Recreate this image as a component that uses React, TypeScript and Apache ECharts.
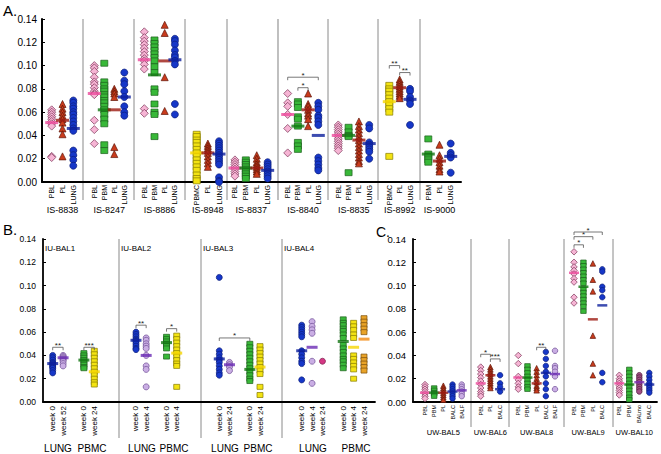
import React, { useEffect, useRef } from 'react';
import * as echarts from 'echarts';

const FONT = 'Liberation Sans, Arial, Helvetica, sans-serif';

// ---------------- Panel A data ----------------
const is8838Cats = ['PBL', 'PL', 'LUNG'];
const is8838Values = [
  [0.062, 0.060, 0.058, 0.056, 0.054, 0.052, 0.050, 0.048, 0.022, 0.021],
  [0.067, 0.063, 0.060, 0.057, 0.054, 0.051, 0.046, 0.041, 0.022],
  [0.070, 0.068, 0.065, 0.063, 0.060, 0.058, 0.055, 0.052, 0.049, 0.046, 0.044, 0.027, 0.023, 0.019, 0.014],
];
const is8838Medians = [0.051, 0.053, 0.046];

const is8247Cats = ['PBL', 'PBM', 'PL', 'LUNG'];
const is8247Values = [
  [0.100, 0.098, 0.095, 0.090, 0.086, 0.084, 0.081, 0.078, 0.076, 0.075, 0.053, 0.045, 0.033],
  [0.102, 0.086, 0.083, 0.080, 0.078, 0.075, 0.073, 0.070, 0.068, 0.065, 0.062, 0.058, 0.054, 0.050, 0.032, 0.027],
  [0.080, 0.078, 0.076, 0.073, 0.030, 0.024],
  [0.094, 0.087, 0.084, 0.078, 0.073, 0.065, 0.060, 0.057],
];
const is8247Medians = [0.076, 0.062, 0.062, 0.073];

const is8886Cats = ['PBL', 'PBM', 'PL', 'LUNG'];
const is8886Values = [
  [0.129, 0.124, 0.121, 0.118, 0.115, 0.112, 0.109, 0.106, 0.104, 0.101, 0.097, 0.063, 0.059],
  [0.122, 0.119, 0.116, 0.113, 0.110, 0.107, 0.104, 0.099, 0.094, 0.080, 0.077, 0.067, 0.060, 0.058, 0.039],
  [0.135, 0.128, 0.090, 0.061],
  [0.123, 0.121, 0.118, 0.113, 0.109, 0.107, 0.104, 0.101, 0.067, 0.058],
];
const is8886Medians = [0.105, 0.092, 0.104, 0.105];

const is8948Cats = ['PBMC', 'PL', 'LUNG'];
const is8948Values = [
  [0.041, 0.039, 0.036, 0.034, 0.031, 0.028, 0.025, 0.022, 0.019, 0.016, 0.013, 0.010, 0.006, 0.003, 0.001],
  [0.033, 0.031, 0.029, 0.027, 0.025, 0.022, 0.019, 0.016, 0.013],
  [0.035, 0.033, 0.031, 0.029, 0.027, 0.025, 0.023, 0.021, 0.019, 0.017, 0.015, 0.004, 0.001, 0.000],
];
const is8948Medians = [0.025, 0.025, 0.024];

const is8837Cats = ['PBL', 'PBM', 'PL', 'LUNG'];
const is8837Values = [
  [0.019, 0.017, 0.015, 0.013, 0.011, 0.009, 0.007, 0.005],
  [0.019, 0.017, 0.015, 0.013, 0.011, 0.009, 0.007, 0.005, 0.003],
  [0.023, 0.020, 0.017, 0.015, 0.013, 0.011, 0.009, 0.007],
  [0.017, 0.015, 0.013, 0.011, 0.009, 0.007, 0.005, 0.003],
];
const is8837Medians = [0.012, 0.012, 0.012, 0.010];

const is8840Cats = ['PBL', 'PBM', 'PL', 'LUNG'];
const is8840Values = [
  [0.076, 0.068, 0.065, 0.058, 0.046, 0.025],
  [0.069, 0.067, 0.064, 0.056, 0.054, 0.048, 0.034, 0.031, 0.028],
  [0.076, 0.067, 0.065, 0.062, 0.059, 0.057, 0.054, 0.048],
  [0.068, 0.065, 0.062, 0.057, 0.055, 0.052, 0.049, 0.021, 0.018, 0.015, 0.012, 0.010],
];
const is8840Medians = [0.058, 0.048, 0.062, 0.040];
const is8840Brackets: [number, number, number, string][] = [[0, 3, 0.090, '*'], [1, 2, 0.081, '*']];

const is8835Cats = ['PBL', 'PBM', 'PL', 'LUNG'];
const is8835Values = [
  [0.049, 0.047, 0.045, 0.043, 0.041, 0.039, 0.037, 0.035, 0.033, 0.031, 0.029, 0.027],
  [0.047, 0.043, 0.040, 0.039, 0.008],
  [0.052, 0.048, 0.045, 0.042, 0.039, 0.036, 0.033, 0.030, 0.027, 0.024, 0.021, 0.018, 0.016],
  [0.049, 0.046, 0.034, 0.032, 0.030, 0.028, 0.026, 0.020],
];
const is8835Medians = [0.040, 0.040, 0.036, 0.033];

const is8992Cats = ['PBMC', 'PL', 'LUNG'];
const is8992Values = [
  [0.083, 0.080, 0.078, 0.075, 0.072, 0.069, 0.066, 0.063, 0.060, 0.022],
  [0.088, 0.086, 0.084, 0.082, 0.080, 0.078, 0.076, 0.074, 0.072],
  [0.080, 0.078, 0.073, 0.070, 0.067, 0.049],
];
const is8992Medians = [0.069, 0.081, 0.071];
const is8992Brackets: [number, number, number, string][] = [[0, 1, 0.100, '**'], [1, 2, 0.094, '**']];

const is9000Cats = ['PBM', 'PL', 'LUNG'];
const is9000Values = [
  [0.037, 0.024, 0.022, 0.019, 0.017],
  [0.032, 0.023, 0.020, 0.017, 0.014, 0.011, 0.009],
  [0.033, 0.025, 0.023, 0.021, 0.008],
];
const is9000Medians = [0.024, 0.018, 0.022];

// ---------------- Panel B data ----------------
const iuBal1Cats = ['week 0', 'week 52', '', 'week 0', 'week 24'];
const iuBal1Values = [
  [0.040, 0.038, 0.036, 0.034, 0.033, 0.032, 0.031, 0.030, 0.029, 0.027, 0.025],
  [0.040, 0.039, 0.038, 0.037, 0.036, 0.035, 0.033, 0.031],
  [],
  [0.042, 0.040, 0.038, 0.036, 0.034, 0.032, 0.030, 0.029],
  [0.044, 0.041, 0.038, 0.035, 0.032, 0.029, 0.026, 0.023, 0.020, 0.017, 0.015],
];
const iuBal1Medians = [0.033, 0.038, null, 0.036, 0.026];
const iuBal1Brackets: [number, number, number, string][] = [[0, 1, 0.047, '**'], [3, 4, 0.047, '***']];

const iuBal2Cats = ['week 0', 'week 4', '', 'week 0', 'week 4'];
const iuBal2Values = [
  [0.060, 0.058, 0.056, 0.054, 0.053, 0.052, 0.050, 0.048, 0.046, 0.045],
  [0.055, 0.053, 0.050, 0.048, 0.046, 0.040, 0.031, 0.028, 0.013],
  [],
  [0.056, 0.054, 0.052, 0.050, 0.048, 0.046, 0.039],
  [0.057, 0.054, 0.051, 0.048, 0.045, 0.042, 0.039, 0.036, 0.033, 0.031, 0.013],
];
const iuBal2Medians = [0.053, 0.040, null, 0.051, 0.042];
const iuBal2Brackets: [number, number, number, string][] = [[0, 1, 0.066, '**'], [3, 4, 0.063, '*']];

const iuBal3Cats = ['week 0', 'week 24', '', 'week 0', 'week 24'];
const iuBal3Values = [
  [0.107, 0.044, 0.041, 0.038, 0.036, 0.034, 0.031, 0.028, 0.025, 0.023],
  [0.034, 0.032, 0.030, 0.027],
  [],
  [0.050, 0.047, 0.044, 0.041, 0.038, 0.035, 0.032, 0.029, 0.026, 0.023, 0.020, 0.018],
  [0.048, 0.045, 0.042, 0.039, 0.036, 0.033, 0.030, 0.027, 0.024, 0.013, 0.006],
];
const iuBal3Medians = [0.037, 0.032, null, 0.028, 0.030];
const iuBal3Brackets: [number, number, number, string][] = [[0, 3, 0.055, '*']];

const iuBal4Cats = ['week 0', 'week 4', 'week 24', '', 'week 0', 'week 4', 'week 24'];
const iuBal4Values = [
  [0.066, 0.064, 0.062, 0.060, 0.058, 0.056, 0.044, 0.041, 0.038, 0.035, 0.033, 0.019],
  [0.069, 0.065, 0.062, 0.059, 0.035, 0.016],
  [0.035],
  [],
  [0.071, 0.068, 0.066, 0.063, 0.061, 0.058, 0.055, 0.049, 0.046, 0.043, 0.040, 0.037, 0.035, 0.032, 0.029],
  [0.068, 0.065, 0.062, 0.058, 0.055, 0.040, 0.037, 0.034, 0.031, 0.028, 0.020],
  [0.072, 0.069, 0.066, 0.063, 0.060, 0.039, 0.036, 0.033, 0.030, 0.027],
];
const iuBal4Medians = [0.044, 0.047, null, null, 0.052, 0.047, 0.054];

const bSubLabels = ['LUNG', 'PBMC', 'LUNG', 'PBMC', 'LUNG', 'PBMC', 'LUNG', 'PBMC'];
const bGroupLabels = ['IU-BAL1', 'IU-BAL2', 'IU-BAL3', 'IU-BAL4'];

// ---------------- Panel C data ----------------
const uwBal5Cats = ['PBL', 'PBM', 'PL', 'BALC', 'BALF'];
const uwBal5Values = [
  [0.015, 0.013, 0.011, 0.009, 0.007, 0.005, 0.003],
  [0.012, 0.010, 0.008, 0.007, 0.005],
  [0.014, 0.012, 0.010, 0.008, 0.006, 0.004, 0.002],
  [0.015, 0.013, 0.011, 0.009, 0.007, 0.005, 0.003],
  [0.015, 0.013, 0.011, 0.009, 0.007, 0.005],
];
const uwBal5Medians = [0.008, 0.008, 0.008, 0.009, 0.010];

const uwBal6Cats = ['PBL', 'PL', 'BALC'];
const uwBal6Values = [
  [0.030, 0.027, 0.024, 0.021, 0.018, 0.015, 0.012, 0.009, 0.007, 0.005],
  [0.030, 0.028, 0.026, 0.024, 0.022, 0.020, 0.018, 0.016, 0.014, 0.012],
  [0.023, 0.016, 0.013, 0.009],
];
const uwBal6Medians = [0.016, 0.023, 0.011];
const uwBal6Brackets: [number, number, number, string][] = [[0, 1, 0.041, '*'], [1, 2, 0.037, '***']];

const uwBal8Cats = ['PBL', 'PBM', 'PL', 'BALC', 'BALF'];
const uwBal8Values = [
  [0.040, 0.033, 0.022, 0.019, 0.016, 0.013, 0.011],
  [0.031, 0.028, 0.025, 0.022, 0.019, 0.016, 0.013, 0.011],
  [0.029, 0.026, 0.023, 0.020, 0.017, 0.014, 0.012, 0.010],
  [0.043, 0.037, 0.031, 0.026, 0.022, 0.016, 0.011, 0.005],
  [0.044, 0.031, 0.029, 0.026, 0.022, 0.011],
];
const uwBal8Medians = [0.021, 0.021, 0.016, 0.025, 0.024];
const uwBal8Brackets: [number, number, number, string][] = [[2, 3, 0.047, '**']];

const uwBal9Cats = ['PBL', 'PBM', 'PL', 'BALC'];
const uwBal9Values = [
  [0.129, 0.120, 0.116, 0.113, 0.110, 0.106, 0.103, 0.090, 0.085],
  [0.120, 0.117, 0.114, 0.111, 0.108, 0.105, 0.102, 0.097, 0.094, 0.091, 0.088, 0.085, 0.082, 0.078],
  [0.119, 0.105, 0.095, 0.057, 0.033, 0.023],
  [0.114, 0.112, 0.099, 0.096, 0.090, 0.025, 0.017],
];
const uwBal9Medians = [0.111, 0.099, 0.071, 0.083];
const uwBal9Brackets: [number, number, number, string][] = [[0, 1, 0.135, '*'], [0, 2, 0.142, '*'], [0, 3, 0.146, '*']];

const uwBal10Cats = ['PBL', 'PBM', 'BALmo', 'BALC'];
const uwBal10Values = [
  [0.023, 0.020, 0.018, 0.016, 0.014, 0.012, 0.010, 0.008, 0.006],
  [0.028, 0.025, 0.022, 0.019, 0.016, 0.013, 0.010, 0.007, 0.004, 0.002],
  [0.023, 0.021, 0.019, 0.017, 0.015, 0.013, 0.011, 0.009],
  [0.025, 0.022, 0.019, 0.016, 0.014, 0.012, 0.010, 0.008],
];
const uwBal10Medians = [0.016, 0.015, 0.017, 0.015];

const yTicks = [0, 0.14, 0.02];

// ---------------- Styles ----------------
const STYLES: Record<string, { symbol: string; color: string; border: string; med: string }> = {
  pbl: { symbol: 'diamond', color: '#f6b4d4', border: '#7a3356', med: '#ee4a9c' },
  pbm: { symbol: 'rect', color: '#38b838', border: '#1b5e1b', med: '#137513' },
  yel: { symbol: 'rect', color: '#f3e312', border: '#857a00', med: '#f6d600' },
  pl: { symbol: 'triangle', color: '#c93b1c', border: '#5e1608', med: '#9c1a12' },
  lung: { symbol: 'circle', color: '#1637c8', border: '#0b1d7a', med: '#0c1f9c' },
  lav: { symbol: 'circle', color: '#caaee4', border: '#6c4a92', med: '#6a2bb4' },
  mag: { symbol: 'circle', color: '#d43784', border: '#7a1446', med: '#d43784' },
  org: { symbol: 'rect', color: '#e9a328', border: '#7a4e0c', med: '#f28a12' },
  mauve: { symbol: 'circle', color: '#a34f85', border: '#4a1a3a', med: '#7a2fb0' },
  none: { symbol: 'circle', color: '#000', border: '#000', med: '#000' },
};

type Group = {
  name: string; cats: string[]; values: number[][]; medians: (number | null)[];
  kinds: string[]; left: number; width: number; brackets?: [number, number, number, string][];
};

const groupsA: Group[] = [
  { name: 'IS-8838', cats: is8838Cats, values: is8838Values, medians: is8838Medians, kinds: ['pbl', 'pl', 'lung'], left: 46.3, width: 32.4 },
  { name: 'IS-8247', cats: is8247Cats, values: is8247Values, medians: is8247Medians, kinds: ['pbl', 'pbm', 'pl', 'lung'], left: 89.3, width: 40 },
  { name: 'IS-8886', cats: is8886Cats, values: is8886Values, medians: is8886Medians, kinds: ['pbl', 'pbm', 'pl', 'lung'], left: 139.2, width: 40.8 },
  { name: 'IS-8948', cats: is8948Cats, values: is8948Values, medians: is8948Medians, kinds: ['yel', 'pl', 'lung'], left: 191.1, width: 33.5 },
  { name: 'IS-8837', cats: is8837Cats, values: is8837Values, medians: is8837Medians, kinds: ['pbl', 'pbm', 'pl', 'lung'], left: 229.5, width: 43.6 },
  { name: 'IS-8840', cats: is8840Cats, values: is8840Values, medians: is8840Medians, kinds: ['pbl', 'pbm', 'pl', 'lung'], left: 282.6, width: 40.8, brackets: is8840Brackets },
  { name: 'IS-8835', cats: is8835Cats, values: is8835Values, medians: is8835Medians, kinds: ['pbl', 'pbm', 'pl', 'lung'], left: 333.1, width: 41.3 },
  { name: 'IS-8992', cats: is8992Cats, values: is8992Values, medians: is8992Medians, kinds: ['yel', 'pl', 'lung'], left: 384.1, width: 31.1, brackets: is8992Brackets },
  { name: 'IS-9000', cats: is9000Cats, values: is9000Values, medians: is9000Medians, kinds: ['pbm', 'pl', 'lung'], left: 422.7, width: 33.6 },
];

const groupsB: Group[] = [
  { name: '', cats: iuBal1Cats, values: iuBal1Values, medians: iuBal1Medians, kinds: ['lung', 'lav', 'none', 'pbm', 'yel'], left: 47.5, width: 52, brackets: iuBal1Brackets },
  { name: '', cats: iuBal2Cats, values: iuBal2Values, medians: iuBal2Medians, kinds: ['lung', 'lav', 'none', 'pbm', 'yel'], left: 130.9, width: 50.9, brackets: iuBal2Brackets },
  { name: '', cats: iuBal3Cats, values: iuBal3Values, medians: iuBal3Medians, kinds: ['lung', 'lav', 'none', 'pbm', 'yel'], left: 214.2, width: 50.9, brackets: iuBal3Brackets },
  { name: '', cats: iuBal4Cats, values: iuBal4Values, medians: iuBal4Medians, kinds: ['lung', 'lav', 'mag', 'none', 'pbm', 'yel', 'org'], left: 296.5, width: 72.7 },
];

const groupsC: Group[] = [
  { name: 'UW-BAL5', cats: uwBal5Cats, values: uwBal5Values, medians: uwBal5Medians, kinds: ['pbl', 'pbm', 'pl', 'lung', 'lav'], left: 420.4, width: 45.9 },
  { name: 'UW-BAL6', cats: uwBal6Cats, values: uwBal6Values, medians: uwBal6Medians, kinds: ['pbl', 'pl', 'lung'], left: 475.9, width: 29, brackets: uwBal6Brackets },
  { name: 'UW-BAL8', cats: uwBal8Cats, values: uwBal8Values, medians: uwBal8Medians, kinds: ['pbl', 'pbm', 'pl', 'lung', 'lav'], left: 513.7, width: 45.9, brackets: uwBal8Brackets },
  { name: 'UW-BAL9', cats: uwBal9Cats, values: uwBal9Values, medians: uwBal9Medians, kinds: ['pbl', 'pbm', 'pl', 'lung'], left: 569.3, width: 37.7, brackets: uwBal9Brackets },
  { name: 'UW-BAL10', cats: uwBal10Cats, values: uwBal10Values, medians: uwBal10Medians, kinds: ['pbl', 'pbm', 'mauve', 'lung'], left: 614.3, width: 40 },
];

type Panel = {
  groups: Group[]; top: number; height: number; axisLeft: number; axisWidth: number;
  yFont: number; yMargin: number; catFont: number; catMargin: number; nameFont: number; nameGap: number;
  sym: number; med: [number, number]; axisW: number;
};

const panels: Panel[] = [
  { groups: groupsA, top: 19, height: 163, axisLeft: 42, axisWidth: 419, yFont: 10, yMargin: 5, catFont: 7, catMargin: 3, nameFont: 9, nameGap: 23, sym: 7, med: [13, 3], axisW: 2 },
  { groups: groupsB, top: 239, height: 163, axisLeft: 43, axisWidth: 332, yFont: 8.5, yMargin: 7, catFont: 8, catMargin: 4, nameFont: 9, nameGap: 30, sym: 6, med: [11, 3], axisW: 1.8 },
  { groups: groupsC, top: 239, height: 163, axisLeft: 413, axisWidth: 244, yFont: 9.5, yMargin: 7, catFont: 5.5, catMargin: 3, nameFont: 7.5, nameGap: 26, sym: 5.5, med: [10, 2.5], axisW: 1.8 },
];

const separators = [
  { x: 83, y1: 19, y2: 200, c: '#c4c4c4', w: 2 }, { x: 134, y1: 19, y2: 200, c: '#8a8a8a', w: 1 },
  { x: 185, y1: 19, y2: 200, c: '#8a8a8a', w: 1 }, { x: 227, y1: 19, y2: 200, c: '#8a8a8a', w: 1 },
  { x: 278, y1: 19, y2: 200, c: '#b0b0b0', w: 1.6 }, { x: 328, y1: 19, y2: 200, c: '#8a8a8a', w: 1 },
  { x: 378, y1: 19, y2: 200, c: '#8a8a8a', w: 1 }, { x: 420, y1: 19, y2: 200, c: '#8a8a8a', w: 1 },
  { x: 119, y1: 239, y2: 438, c: '#c4c4c4', w: 2 }, { x: 201, y1: 239, y2: 438, c: '#8a8a8a', w: 1 },
  { x: 282, y1: 239, y2: 438, c: '#8a8a8a', w: 1 },
  { x: 471, y1: 239, y2: 427, c: '#8a8a8a', w: 1 }, { x: 509, y1: 239, y2: 427, c: '#8a8a8a', w: 1 },
  { x: 564, y1: 239, y2: 427, c: '#8a8a8a', w: 1 }, { x: 613, y1: 239, y2: 427, c: '#8a8a8a', w: 1 },
];
const bSubLabelX = [58, 92, 142, 174, 225, 258, 313, 356];
const bGroupLabelX = [45, 121, 203, 284];

function buildOption() {
  const grid: any[] = [];
  const xAxis: any[] = [];
  const yAxis: any[] = [];
  const series: any[] = [];

  panels.forEach((p) => {
    // base grid: continuous axes
    const bi = grid.length;
    grid.push({ left: p.axisLeft, top: p.top, width: p.axisWidth, height: p.height, containLabel: false, outerBoundsMode: 'none' });
    xAxis.push({
      type: 'value', gridIndex: bi, min: 0, max: 1,
      axisLine: { show: true, lineStyle: { color: '#000', width: p.axisW } },
      axisTick: { show: false }, axisLabel: { show: false }, splitLine: { show: false },
    });
    yAxis.push({
      type: 'value', gridIndex: bi, min: yTicks[0], max: yTicks[1], interval: yTicks[2],
      axisLine: { show: true, lineStyle: { color: '#000', width: p.axisW } },
      axisTick: { show: true, inside: true, length: 3, lineStyle: { color: '#000' } },
      axisLabel: { fontSize: p.yFont, fontFamily: FONT, color: '#000', margin: p.yMargin, formatter: (v: number) => v.toFixed(2) },
      splitLine: { show: false },
    });

    p.groups.forEach((g) => {
      const gi = grid.length;
      grid.push({ left: g.left, top: p.top, width: g.width, height: p.height, containLabel: false, outerBoundsMode: 'none' });
      xAxis.push({
        type: 'category', gridIndex: gi, data: g.cats, boundaryGap: true,
        axisLine: { show: false }, axisTick: { show: false }, splitLine: { show: false },
        axisLabel: { rotate: 90, interval: 0, fontSize: p.catFont, fontFamily: FONT, color: '#000', margin: p.catMargin, hideOverlap: false },
        name: g.name, nameLocation: 'middle', nameGap: p.nameGap, nameMoveOverlap: false,
        nameTextStyle: { fontSize: p.nameFont, fontFamily: FONT, color: '#000' },
      });
      yAxis.push({ type: 'value', gridIndex: gi, min: yTicks[0], max: yTicks[1], show: false });

      g.values.forEach((vals, ci) => {
        if (!vals.length) return;
        const st = STYLES[g.kinds[ci]];
        const size = st.symbol === 'rect' ? [p.sym, p.sym - 1] : st.symbol === 'diamond' ? p.sym + 1 : p.sym;
        series.push({
          type: 'scatter', xAxisIndex: gi, yAxisIndex: gi, silent: true, z: 2,
          symbol: st.symbol, symbolSize: size,
          itemStyle: { color: st.color, borderColor: st.border, borderWidth: 0.7, opacity: 1 },
          data: vals.map((v) => [ci, v]),
        });
      });

      const medData: any[] = [];
      g.medians.forEach((m, ci) => {
        if (m === null) return;
        medData.push({ value: [ci, m], itemStyle: { color: STYLES[g.kinds[ci]].med } });
      });
      series.push({
        type: 'scatter', xAxisIndex: gi, yAxisIndex: gi, silent: true, z: 3,
        symbol: 'rect', symbolSize: p.med, data: medData,
      });

      if (g.brackets && g.brackets.length) {
        const brs = g.brackets;
        series.push({
          type: 'custom', xAxisIndex: gi, yAxisIndex: gi, silent: true, z: 4, clip: false,
          encode: { x: [0, 1], y: 2 },
          data: brs.map((b) => [b[0], b[1], b[2]]),
          renderItem: (params: any, api: any) => {
            const b = brs[params.dataIndex];
            const a = api.coord([b[0], b[2]]);
            const c = api.coord([b[1], b[2]]);
            return {
              type: 'group',
              children: [
                { type: 'polyline', shape: { points: [[a[0], a[1] + 3], [a[0], a[1]], [c[0], c[1]], [c[0], c[1] + 3]] }, style: { stroke: '#555', lineWidth: 0.8, fill: null } },
                { type: 'text', x: (a[0] + c[0]) / 2, y: a[1] + 2, style: { text: b[3], fill: '#222', fontSize: 8, fontFamily: FONT, align: 'center', verticalAlign: 'bottom' } },
              ],
            };
          },
        });
      }
    });
  });

  const graphic: any[] = [];
  separators.forEach((s) => {
    graphic.push({ type: 'line', silent: true, z: 0, shape: { x1: s.x, y1: s.y1, x2: s.x, y2: s.y2 }, style: { stroke: s.c, lineWidth: s.w } });
  });
  graphic.push({ type: 'text', x: 3, y: 3, style: { text: 'A.', fontSize: 15, fontFamily: FONT, fill: '#000' } });
  graphic.push({ type: 'text', x: 3, y: 222, style: { text: 'B.', fontSize: 15, fontFamily: FONT, fill: '#000' } });
  graphic.push({ type: 'text', x: 376, y: 225, style: { text: 'C.', fontSize: 14, fontFamily: FONT, fill: '#000' } });
  bGroupLabels.forEach((t, i) => {
    graphic.push({ type: 'text', x: bGroupLabelX[i], y: 244, style: { text: t, fontSize: 8, fontFamily: FONT, fill: '#000' } });
  });
  bSubLabels.forEach((t, i) => {
    graphic.push({ type: 'text', x: bSubLabelX[i], y: 448, style: { text: t, fontSize: 10, fontFamily: FONT, fill: '#000', align: 'center', verticalAlign: 'middle' } });
  });

  return { animation: false, backgroundColor: '#fff', grid, xAxis, yAxis, series, graphic };
}

export default function App() {
  const ref = useRef<HTMLDivElement>(null);
  useEffect(() => {
    if (!ref.current) return;
    const chart = echarts.init(ref.current, undefined, { renderer: 'svg' });
    chart.setOption(buildOption() as any);
    return () => chart.dispose();
  }, []);
  return <div ref={ref} style={{ position: 'fixed', left: 0, top: 0, width: 661, height: 454, background: '#fff' }} />;
}
